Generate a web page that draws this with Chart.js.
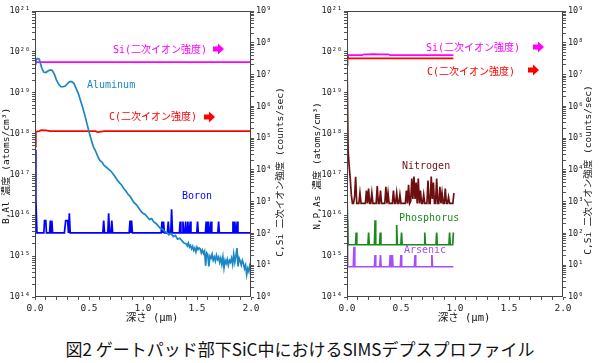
<!DOCTYPE html>
<html lang="ja">
<head>
<meta charset="utf-8">
<script src="https://cdn.jsdelivr.net/npm/chart.js@4.4.0/dist/chart.umd.min.js"></script>
<style>
  html, body { margin: 0; padding: 0; background: #fff; }
  #wrap { position: relative; width: 600px; height: 363px; overflow: hidden; }
  .panel { position: absolute; top: 0; width: 300px; height: 330px; }
  #caption {
    position: absolute; left: 0; top: 339px; width: 600px; line-height: 20px;
    text-align: center; font-size: 17px; color: #111;
    font-family: 'Noto Sans CJK JP', sans-serif;
  }
</style>
</head>
<body>
<div id="wrap">
  <div class="panel" style="left:0"><canvas id="leftChart" width="300" height="330"></canvas></div>
  <div class="panel" style="left:300px"><canvas id="rightChart" width="300" height="330"></canvas></div>
  <div id="caption">図2 ゲートパッド部下SiC中におけるSIMSデプスプロファイル</div>
</div>
<script>
// ---- tick labels ----
const xMajor = [0, 0.5, 1.0, 1.5, 2.0];
const xLabels = ['0.0', '0.5', '1.0', '1.5', '2.0'];
const concExp = [14, 15, 16, 17, 18, 19, 20, 21];      // atoms/cm3 axis
const countExp = [0, 1, 2, 3, 4, 5, 6, 7, 8, 9];        // counts/sec axis

// ---- left panel: B, Al (atoms/cm3), C, Si (counts/sec) ----
const alDepth = [0, 0.01, 0.02, 0.04, 0.06, 0.08, 0.1, 0.12, 0.14, 0.16, 0.18, 0.2,
  0.22, 0.24, 0.26, 0.28, 0.3, 0.32, 0.34, 0.36, 0.38, 0.4,
  0.42, 0.44, 0.46, 0.48, 0.5, 0.52, 0.54, 0.56, 0.58, 0.6,
  0.62, 0.64, 0.66, 0.68, 0.7, 0.72, 0.74, 0.76, 0.78, 0.8,
  0.82, 0.84, 0.86, 0.88, 0.9, 0.92, 0.94, 0.96, 0.98, 1.0,
  1.02, 1.04, 1.06, 1.08, 1.1, 1.12, 1.14, 1.16, 1.18, 1.2,
  1.22, 1.24, 1.26, 1.28, 1.3, 1.32, 1.34, 1.36, 1.38,
  1.40, 1.41, 1.42, 1.43, 1.44, 1.45, 1.46, 1.47, 1.48, 1.49,
  1.50, 1.51, 1.52, 1.53, 1.54, 1.55, 1.56, 1.57, 1.58, 1.59,
  1.60, 1.61, 1.62, 1.63, 1.64, 1.65, 1.66, 1.67, 1.68, 1.69,
  1.70, 1.71, 1.72, 1.73, 1.74, 1.75, 1.76, 1.77, 1.78, 1.79,
  1.80, 1.81, 1.82, 1.83, 1.84, 1.85, 1.86, 1.87, 1.88, 1.89,
  1.90, 1.91, 1.92, 1.93, 1.94, 1.95, 1.96, 1.97, 1.98, 1.99,
  2.00];
const alConc = [4.4e19, 6.3e19, 6.9e19, 6.6e19, 4.2e19, 3.2e19, 3.1e19, 3.4e19, 3.6e19, 3.5e19, 2.8e19, 2.0e19,
  1.6e19, 1.4e19, 1.4e19, 1.45e19, 1.66e19, 1.86e19, 1.86e19, 1.7e19, 1.3e19, 9.8e18,
  6.6e18, 4.5e18, 2.9e18, 1.8e18, 1.1e18, 7.2e17, 4.8e17, 3.8e17, 2.8e17, 2.2e17,
  2.0e17, 1.66e17, 1.5e17, 1.35e17, 1.23e17, 1.05e17, 8.9e16, 7.4e16, 6.3e16, 5.6e16,
  4.6e16, 4.0e16, 3.3e16, 2.9e16, 2.4e16, 2.0e16, 1.8e16, 1.5e16, 1.26e16, 1.12e16,
  1.05e16, 9.1e15, 7.9e15, 8.3e15, 6.9e15, 6.3e15, 5.5e15, 4.8e15, 4.6e15, 4.0e15,
  3.8e15, 3.3e15, 3.6e15, 3.0e15, 3.2e15, 2.6e15, 2.75e15, 2.4e15, 2.1e15,
  2.0e15, 1.78e15, 2.1e15, 1.66e15, 1.82e15, 1.51e15, 1.74e15, 1.38e15, 1.58e15, 1.26e15,
  1.66e15, 1.45e15, 1.58e15, 1.51e15, 1.2e15, 1.41e15, 1.15e15, 1.32e15, 5.8e14, 1.2e15,
  1.1e15, 5.6e14, 1.0e15, 8.9e14, 1.12e15, 7.9e14, 9.5e14, 7.6e14, 1.05e15, 8.3e14,
  9.5e14, 7.1e14, 8.9e14, 6.3e14, 9.5e14, 5.2e14, 7.9e14, 6.6e14, 8.3e14, 6.0e14,
  7.9e14, 7.1e14, 8.9e14, 6.3e14, 1.12e15, 7.1e14, 1.0e15, 1.58e15, 5.6e14, 8.9e14,
  7.6e14, 6.0e14, 7.9e14, 6.6e14, 5.0e14, 6.0e14, 3.5e14, 5.0e14, 4.2e14, 6.3e14,
  7.1e14];

const boronDepth = [0, 0.008, 0.018,
  0.082, 0.088, 0.1, 0.106,
  0.135, 0.142, 0.149, 0.156, 0.163,
  0.272, 0.284, 0.302, 0.31, 0.318, 0.326,
  0.628, 0.636, 0.644, 0.674, 0.682, 0.69, 0.703, 0.711, 0.719,
  0.872, 0.88, 0.887, 0.894, 0.902,
  1.168, 1.176, 1.183, 1.19, 1.198,
  1.226, 1.234, 1.242, 1.257, 1.265, 1.273,
  1.337, 1.344, 1.351, 1.363, 1.37, 1.377, 1.388, 1.395, 1.402, 1.408, 1.415, 1.422, 1.43, 1.437, 1.444,
  1.498, 1.505, 1.512,
  1.578, 1.585, 1.592, 1.6, 1.607, 1.614, 1.623, 1.63, 1.637,
  1.693, 1.7, 1.707,
  1.826, 1.833, 1.84, 1.843, 1.85, 1.857, 1.865, 1.872, 1.879,
  2.0];
const boronConc = [4.0e17, 2.5e16, 3.7e15,
  3.7e15, 7.4e15, 7.4e15, 3.7e15,
  3.7e15, 7.4e15, 3.7e15, 7.4e15, 3.7e15,
  3.7e15, 7.4e15, 7.4e15, 3.7e15, 1.12e16, 3.7e15,
  3.7e15, 7.4e15, 3.7e15, 3.7e15, 1.12e16, 3.7e15, 3.7e15, 7.4e15, 3.7e15,
  3.7e15, 7.4e15, 3.7e15, 7.4e15, 3.7e15,
  3.7e15, 7.0e15, 3.7e15, 7.0e15, 3.7e15,
  3.7e15, 7.0e15, 3.7e15, 3.7e15, 1.4e16, 3.7e15,
  3.7e15, 7.0e15, 3.7e15, 3.7e15, 7.0e15, 3.7e15, 3.7e15, 7.0e15, 3.7e15, 3.7e15, 7.0e15, 3.7e15, 3.7e15, 7.0e15, 3.7e15,
  3.7e15, 7.0e15, 3.7e15,
  3.7e15, 7.0e15, 3.7e15, 3.7e15, 7.0e15, 3.7e15, 3.7e15, 7.0e15, 3.7e15,
  3.7e15, 7.0e15, 3.7e15,
  3.7e15, 7.0e15, 3.7e15, 3.7e15, 7.0e15, 3.7e15, 3.7e15, 7.0e15, 3.7e15,
  3.7e15];

const cLeftDepth = [0, 0.008, 0.04, 0.06, 0.1, 0.14, 0.56, 0.58, 0.61, 0.64, 2.0];
const cLeftCounts = [5.4e4, 1.6e5, 1.66e5, 1.78e5, 1.74e5, 1.66e5, 1.66e5, 1.55e5, 1.6e5, 1.66e5, 1.66e5];
const siLeftDepth = [0, 0.01, 2.0];
const siLeftCounts = [1.8e7, 2.45e7, 2.45e7];

// ---- right panel: N, P, As (atoms/cm3), C, Si (counts/sec) ----
const nDepth = [0.00, 0.01, 0.02, 0.03, 0.04, 0.05, 0.06, 0.07, 0.08, 0.09,
  0.10, 0.11, 0.12, 0.13, 0.14, 0.15, 0.16, 0.17, 0.18, 0.19,
  0.20, 0.21, 0.22, 0.23, 0.24, 0.25, 0.26, 0.27, 0.28, 0.29,
  0.30, 0.31, 0.32, 0.33, 0.34, 0.35, 0.36, 0.37, 0.38, 0.39,
  0.40, 0.41, 0.42, 0.43, 0.44, 0.45, 0.46, 0.47, 0.48, 0.49,
  0.50, 0.51, 0.52, 0.53, 0.54, 0.55, 0.56, 0.57, 0.58, 0.59,
  0.60, 0.61, 0.62, 0.63, 0.64, 0.65, 0.66, 0.67, 0.68, 0.69,
  0.70, 0.71, 0.72, 0.73, 0.74, 0.75, 0.76, 0.77, 0.78, 0.79,
  0.80, 0.81, 0.82, 0.83, 0.84, 0.85, 0.86, 0.87, 0.88, 0.89,
  0.90, 0.91, 0.92, 0.93, 0.94, 0.95, 0.96, 0.97, 0.98, 0.99];
const nConc = [7.1e19, 4.0e17, 1.6e17, 7.9e16, 3.2e16, 1.95e16, 1.95e16, 2.8e16, 8.7e16, 1.95e16,
  1.95e16, 1.95e16, 3.5e16, 1.95e16, 1.95e16, 1.95e16, 1.95e16, 1.95e16, 4.0e16, 1.95e16,
  4.5e16, 1.95e16, 1.95e16, 3.5e16, 1.95e16, 1.95e16, 1.95e16, 1.95e16, 5.2e16, 1.95e16,
  1.95e16, 4.0e16, 1.95e16, 1.95e16, 1.95e16, 1.95e16, 5.0e16, 1.95e16, 3.5e16, 1.95e16,
  1.95e16, 1.95e16, 1.95e16, 4.0e16, 1.95e16, 1.95e16, 3.5e16, 1.95e16, 1.95e16, 3.2e16,
  1.95e16, 1.95e16, 1.95e16, 1.95e16, 1.95e16, 4.0e16, 1.95e16, 5.6e16, 1.95e16, 2.2e16,
  7.9e16, 2.5e16, 8.9e16, 2.5e16, 6.3e16, 1.95e16, 7.9e16, 1.95e16, 4.0e16, 1.95e16,
  1.95e16, 3.2e16, 1.95e16, 1.95e16, 1.95e16, 7.1e16, 1.95e16, 1.95e16, 8.9e16, 2.5e16,
  6.3e16, 1.95e16, 1.95e16, 7.9e16, 1.95e16, 1.95e16, 5.0e16, 1.95e16, 3.5e16, 1.95e16,
  1.95e16, 4.5e16, 1.95e16, 1.95e16, 2.8e16, 1.95e16, 1.95e16, 1.95e16, 1.95e16, 3.5e16];

const pDepth = [0, 0.01, 0.079, 0.085, 0.091, 0.194, 0.2, 0.206, 0.254, 0.26, 0.266,
  0.302, 0.308, 0.314, 0.454, 0.46, 0.466, 0.499, 0.505, 0.511, 0.714, 0.72, 0.726,
  0.824, 0.83, 0.836, 0.944, 0.95, 0.956, 0.979, 0.985];
const pConc = [3.5e16, 1.9e15, 1.9e15, 3.8e15, 1.9e15, 1.9e15, 3.8e15, 1.9e15, 1.9e15, 7.6e15, 1.9e15,
  1.9e15, 3.8e15, 1.9e15, 1.9e15, 5.8e15, 1.9e15, 1.9e15, 3.8e15, 1.9e15, 1.9e15, 3.8e15, 1.9e15,
  1.9e15, 3.8e15, 1.9e15, 1.9e15, 3.8e15, 1.9e15, 1.9e15, 3.8e15];

const asDepth = [0, 0.006, 0.058, 0.065, 0.072, 0.254, 0.26, 0.266, 0.304, 0.31, 0.316,
  0.394, 0.4, 0.406, 0.414, 0.42, 0.426, 0.494, 0.5, 0.506, 0.624, 0.63, 0.636,
  0.78, 0.786, 0.792, 0.985];
const asConc = [7.6e15, 5.5e14, 5.5e14, 1.7e15, 5.5e14, 5.5e14, 1.07e15, 5.5e14, 5.5e14, 1.07e15, 5.5e14,
  5.5e14, 1.07e15, 5.5e14, 5.5e14, 1.07e15, 5.5e14, 5.5e14, 1.07e15, 5.5e14, 5.5e14, 1.07e15, 5.5e14,
  5.5e14, 1.07e15, 5.5e14, 5.5e14];

const siRightDepth = [0, 0.01, 0.14, 0.16, 0.2, 0.24, 0.3, 0.38, 0.4, 0.985];
const siRightCounts = [3.5e7, 4.1e7, 4.1e7, 4.35e7, 4.3e7, 4.4e7, 4.3e7, 4.35e7, 4.1e7, 4.1e7];
const cRightDepth = [0, 0.005, 0.015, 0.985];
const cRightCounts = [2.0e7, 3.8e7, 3.24e7, 3.24e7];

// ---- helpers ----
const MONO = "'DejaVu Sans Mono', 'Noto Sans CJK JP', monospace";
const SUP = '⁰¹²³⁴⁵⁶⁷⁸⁹';
const sup = n => String(n).split('').map(d => SUP[+d]).join('');

function points(depth, vals) {
  return depth.map((d, i) => ({ x: d, y: vals[i] }));
}

function line(label, depth, vals, color, axis) {
  return {
    label: label,
    data: points(depth, vals),
    borderColor: color,
    backgroundColor: color,
    borderWidth: 1.7,
    pointRadius: 0,
    tension: 0,
    fill: false,
    yAxisID: axis
  };
}

// log ticks: decade marks plus 2..9 minor marks
function logTicks(exps) {
  const t = [];
  exps.forEach((e, i) => {
    t.push({ value: Math.pow(10, e) });
    if (i < exps.length - 1) {
      for (let m = 2; m <= 9; m++) t.push({ value: m * Math.pow(10, e) });
    }
  });
  return t;
}

function decadeLabel(v) {
  const e = Math.round(Math.log10(v));
  return Math.abs(v / Math.pow(10, e) - 1) < 1e-6 ? '10' + sup(e) : '';
}

const tickGrid = {
  drawOnChartArea: false,
  drawTicks: true,
  tickLength: 3,
  color: '#555',
  tickColor: '#555'
};
const yTickFont = { family: MONO, size: 8.5 };
const xTickFont = { family: MONO, size: 9.5 };

function makeScales(leftWidth, rightWidth) {
  return {
    x: {
      type: 'linear',
      min: 0,
      max: 2,
      afterFit: s => { s.height = 33; },
      grid: tickGrid,
      border: { display: false },
      ticks: {
        stepSize: 0.1,
        autoSkip: false,
        maxRotation: 0,
        padding: 3,
        color: '#222',
        font: xTickFont,
        callback: v => {
          const i = xMajor.findIndex(m => Math.abs(m - v) < 1e-6);
          return i >= 0 ? xLabels[i] : '';
        }
      }
    },
    y: {
      type: 'logarithmic',
      position: 'left',
      min: 1e14,
      max: 1e21,
      afterFit: s => { s.width = leftWidth; },
      afterBuildTicks: s => { s.ticks = logTicks(concExp); },
      grid: tickGrid,
      border: { display: false },
      ticks: { autoSkip: false, padding: 2, color: '#222', font: yTickFont, callback: decadeLabel }
    },
    y2: {
      type: 'logarithmic',
      position: 'right',
      min: 1,
      max: 1e9,
      afterFit: s => { s.width = rightWidth; },
      afterBuildTicks: s => { s.ticks = logTicks(countExp); },
      grid: tickGrid,
      border: { display: false },
      ticks: { autoSkip: false, padding: 2, color: '#222', font: yTickFont, callback: decadeLabel }
    }
  };
}

function drawArrow(ctx, x, y, color) {
  ctx.fillStyle = color;
  ctx.beginPath();
  ctx.moveTo(x, y - 2.5);
  ctx.lineTo(x + 5, y - 2.5);
  ctx.lineTo(x + 5, y - 5.5);
  ctx.lineTo(x + 11, y);
  ctx.lineTo(x + 5, y + 5.5);
  ctx.lineTo(x + 5, y + 2.5);
  ctx.lineTo(x, y + 2.5);
  ctx.closePath();
  ctx.fill();
}

// frame, in-plot labels and axis titles
function decorPlugin(cfg) {
  return {
    id: 'decor',
    afterDraw(chart) {
      const ctx = chart.ctx;
      const a = chart.chartArea;
      ctx.save();
      ctx.strokeStyle = '#444';
      ctx.lineWidth = 1;
      ctx.strokeRect(a.left + 0.5, a.top + 0.5, a.right - a.left - 1, a.bottom - a.top - 1);

      ctx.textBaseline = 'middle';
      ctx.textAlign = 'left';
      ctx.font = '10px ' + MONO;
      cfg.labels.forEach(l => {
        ctx.fillStyle = l.color;
        ctx.fillText(l.text, l.x, l.y);
      });
      cfg.arrows.forEach(ar => drawArrow(ctx, ar.x, ar.y, ar.color));

      ctx.fillStyle = '#111';
      ctx.textAlign = 'center';
      ctx.font = '9.5px ' + MONO;
      cfg.vTitles.forEach(t => {
        ctx.save();
        ctx.translate(t.x, t.y);
        ctx.rotate(-Math.PI / 2);
        ctx.fillText(t.text, 0, 0);
        ctx.restore();
      });
      ctx.font = '10.5px ' + MONO;
      ctx.fillText(cfg.xTitle.text, cfg.xTitle.x, cfg.xTitle.y);
      ctx.restore();
    }
  };
}

function makeChart(id, datasets, leftWidth, rightWidth, deco) {
  return new Chart(document.getElementById(id), {
    type: 'line',
    data: { datasets: datasets },
    options: {
      responsive: false,
      devicePixelRatio: 1,
      animation: false,
      layout: { padding: { top: 11, left: 0, right: 0, bottom: 0 } },
      scales: makeScales(leftWidth, rightWidth),
      plugins: { legend: { display: false }, tooltip: { enabled: false } }
    },
    plugins: [decorPlugin(deco)]
  });
}

const AL = '#1a87c4', BORON = '#0000ff', MAG = '#ff00ff', RED = '#ff0000';
const NITRO = '#6e0f0f', PHOS = '#1b8a1b', ARS = '#a64dff';

makeChart('leftChart', [
  line('Aluminum', alDepth, alConc, AL, 'y'),
  line('Boron', boronDepth, boronConc, BORON, 'y'),
  line('C', cLeftDepth, cLeftCounts, RED, 'y2'),
  line('Si', siLeftDepth, siLeftCounts, MAG, 'y2')
], 35, 49, {
  labels: [
    { text: 'Si(二次イオン強度)', x: 113, y: 50, color: MAG },
    { text: 'Aluminum', x: 87, y: 85, color: AL },
    { text: 'C(二次イオン強度)', x: 109, y: 117, color: RED },
    { text: 'Boron', x: 182, y: 196, color: BORON }
  ],
  arrows: [
    { x: 213, y: 49, color: MAG },
    { x: 204, y: 117, color: RED }
  ],
  vTitles: [
    { text: 'B,Al 濃度 (atoms/cm³)', x: 7, y: 166 },
    { text: 'C,Si 二次イオン強度 (counts/sec)', x: 281, y: 172 }
  ],
  xTitle: { text: '深さ (μm)', x: 152, y: 318 }
});

makeChart('rightChart', [
  line('Nitrogen', nDepth, nConc, NITRO, 'y'),
  line('Phosphorus', pDepth, pConc, PHOS, 'y'),
  line('Arsenic', asDepth, asConc, ARS, 'y'),
  line('C', cRightDepth, cRightCounts, RED, 'y2'),
  line('Si', siRightDepth, siRightCounts, MAG, 'y2')
], 47, 37, {
  labels: [
    { text: 'Si(二次イオン強度)', x: 126, y: 48, color: MAG },
    { text: 'C(二次イオン強度)', x: 127, y: 72, color: RED },
    { text: 'Nitrogen', x: 102, y: 166, color: NITRO },
    { text: 'Phosphorus', x: 99, y: 218, color: PHOS },
    { text: 'Arsenic', x: 104, y: 250, color: ARS }
  ],
  arrows: [
    { x: 233, y: 47, color: MAG },
    { x: 228, y: 70, color: RED }
  ],
  vTitles: [
    { text: 'N,P,As 濃度 (atoms/cm³)', x: 18, y: 166 },
    { text: 'C,Si 二次イオン強度 (counts/sec)', x: 289, y: 170 }
  ],
  xTitle: { text: '深さ (μm)', x: 164, y: 318 }
});
</script>
</body>
</html>
